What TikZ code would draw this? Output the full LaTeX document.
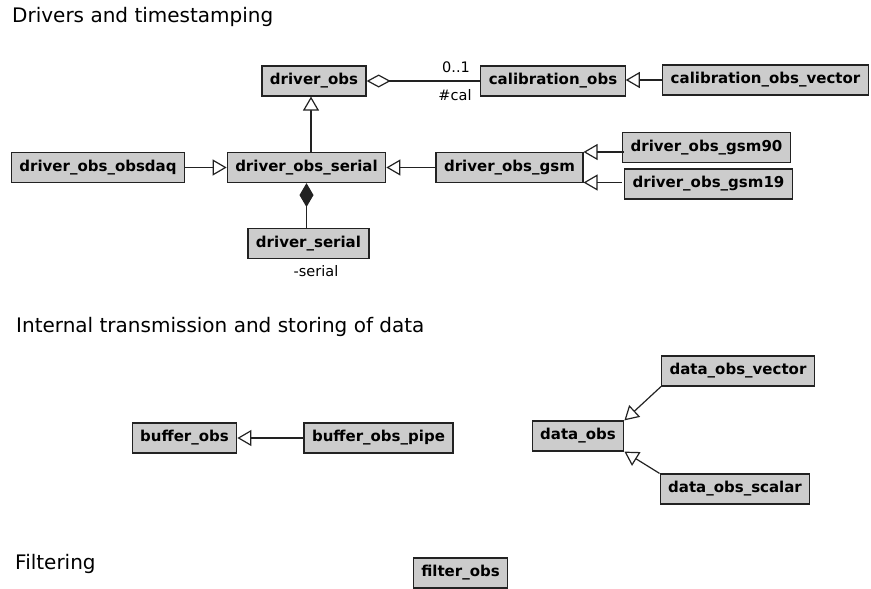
\documentclass[tikz,border=0pt]{standalone}
\usepackage{fontspec}
\setmainfont{DejaVu Sans}
\usetikzlibrary{arrows.meta}

\definecolor{boxfill}{RGB}{204,204,204}
\definecolor{ink}{RGB}{34,34,34}

\tikzset{
  cls/.style={draw=ink, fill=boxfill, line width=1.2pt, minimum height=30pt,
    inner xsep=8pt, inner ysep=0pt,
    font=\fontsize{15}{18}\selectfont\bfseries},
  heading/.style={anchor=base west, inner sep=0pt,
    font=\fontsize{20}{24}\selectfont},
  role/.style={inner sep=0pt, font=\fontsize{14.5}{17}\selectfont},
  link/.style={draw=ink, line width=1.2pt},
  inherits/.style={link, -{Triangle[open, length=14pt, width=16pt, line width=1.2pt, fill=white]}},
  aggregates/.style={link, -{Diamond[open, length=24pt, width=13pt, line width=1.2pt, fill=white]}},
  composes/.style={link, -{Diamond[length=24pt, width=14pt]}},
}

\begin{document}
\begin{tikzpicture}[x=1pt, y=-1pt]
  \useasboundingbox (0,0) rectangle (871,589);

  % section headings
  \node[heading] (h1) at (12,23) {Drivers and timestamping};
  \node[heading] (h2) at (16,332) {Internal transmission and storing of data};
  \node[heading] (h3) at (15,569) {Filtering};

  % drivers
  \node[cls] (driver_obs) at (314,81) {driver\_obs};
  \node[cls] (calibration_obs) at (553,81) {calibration\_obs};
  \node[cls] (calibration_obs_vector) at (765.5,80) {calibration\_obs\_vector};
  \node[cls] (driver_obs_serial) at (306.5,167.5) {driver\_obs\_serial};
  \node[cls] (driver_obs_obsdaq) at (98,167.5) {driver\_obs\_obsdaq};
  \node[cls] (driver_serial) at (308.5,243.5) {driver\_serial};
  \node[cls] (driver_obs_gsm) at (509.5,167.5) {driver\_obs\_gsm};
  \node[cls] (driver_obs_gsm90) at (706.5,147.5) {driver\_obs\_gsm90};
  \node[cls] (driver_obs_gsm19) at (708.5,184) {driver\_obs\_gsm19};

  \node[role] (mult) at (456,67) {0..1};
  \node[role] (calrole) at (455,95) {\#cal};
  \node[role] (serialrole) at (316,271) {-serial};

  \draw[aggregates] (calibration_obs.west) -- (driver_obs.east);
  \draw[inherits] (calibration_obs_vector.west) -- (calibration_obs_vector.west -| calibration_obs.east);
  \draw[inherits] ([xshift=-3pt]driver_obs.south |- driver_obs_serial.north) -- ([xshift=-3pt]driver_obs.south);
  \draw[inherits] (driver_obs_obsdaq.east) -- (driver_obs_obsdaq.east -| driver_obs_serial.west);
  \draw[inherits] (driver_obs_gsm.west) -- (driver_obs_gsm.west -| driver_obs_serial.east);
  \draw[composes] (driver_serial.north -| driver_obs_serial.south) -- (driver_obs_serial.south);
  \draw[inherits] ([yshift=-15pt]driver_obs_gsm.east -| driver_obs_gsm90.west) -- ([yshift=-15pt]driver_obs_gsm.east);
  \draw[inherits] ([yshift=15.5pt]driver_obs_gsm.east -| driver_obs_gsm19.west) -- ([yshift=15.5pt]driver_obs_gsm.east);

  % data handling
  \node[cls] (buffer_obs) at (184.5,438) {buffer\_obs};
  \node[cls] (buffer_obs_pipe) at (378.5,438) {buffer\_obs\_pipe};
  \node[cls] (data_obs) at (578,436) {data\_obs};
  \node[cls] (data_obs_vector) at (738,371) {data\_obs\_vector};
  \node[cls] (data_obs_scalar) at (735,489) {data\_obs\_scalar};

  \draw[inherits] (buffer_obs_pipe.west) -- (buffer_obs.east);
  \draw[inherits] (data_obs_vector.south west) -- (data_obs.north east);
  \draw[inherits] (data_obs_scalar.north west) -- (data_obs.south east);

  % filtering
  \node[cls] (filter_obs) at (460.5,573) {filter\_obs};
\end{tikzpicture}
\end{document}
